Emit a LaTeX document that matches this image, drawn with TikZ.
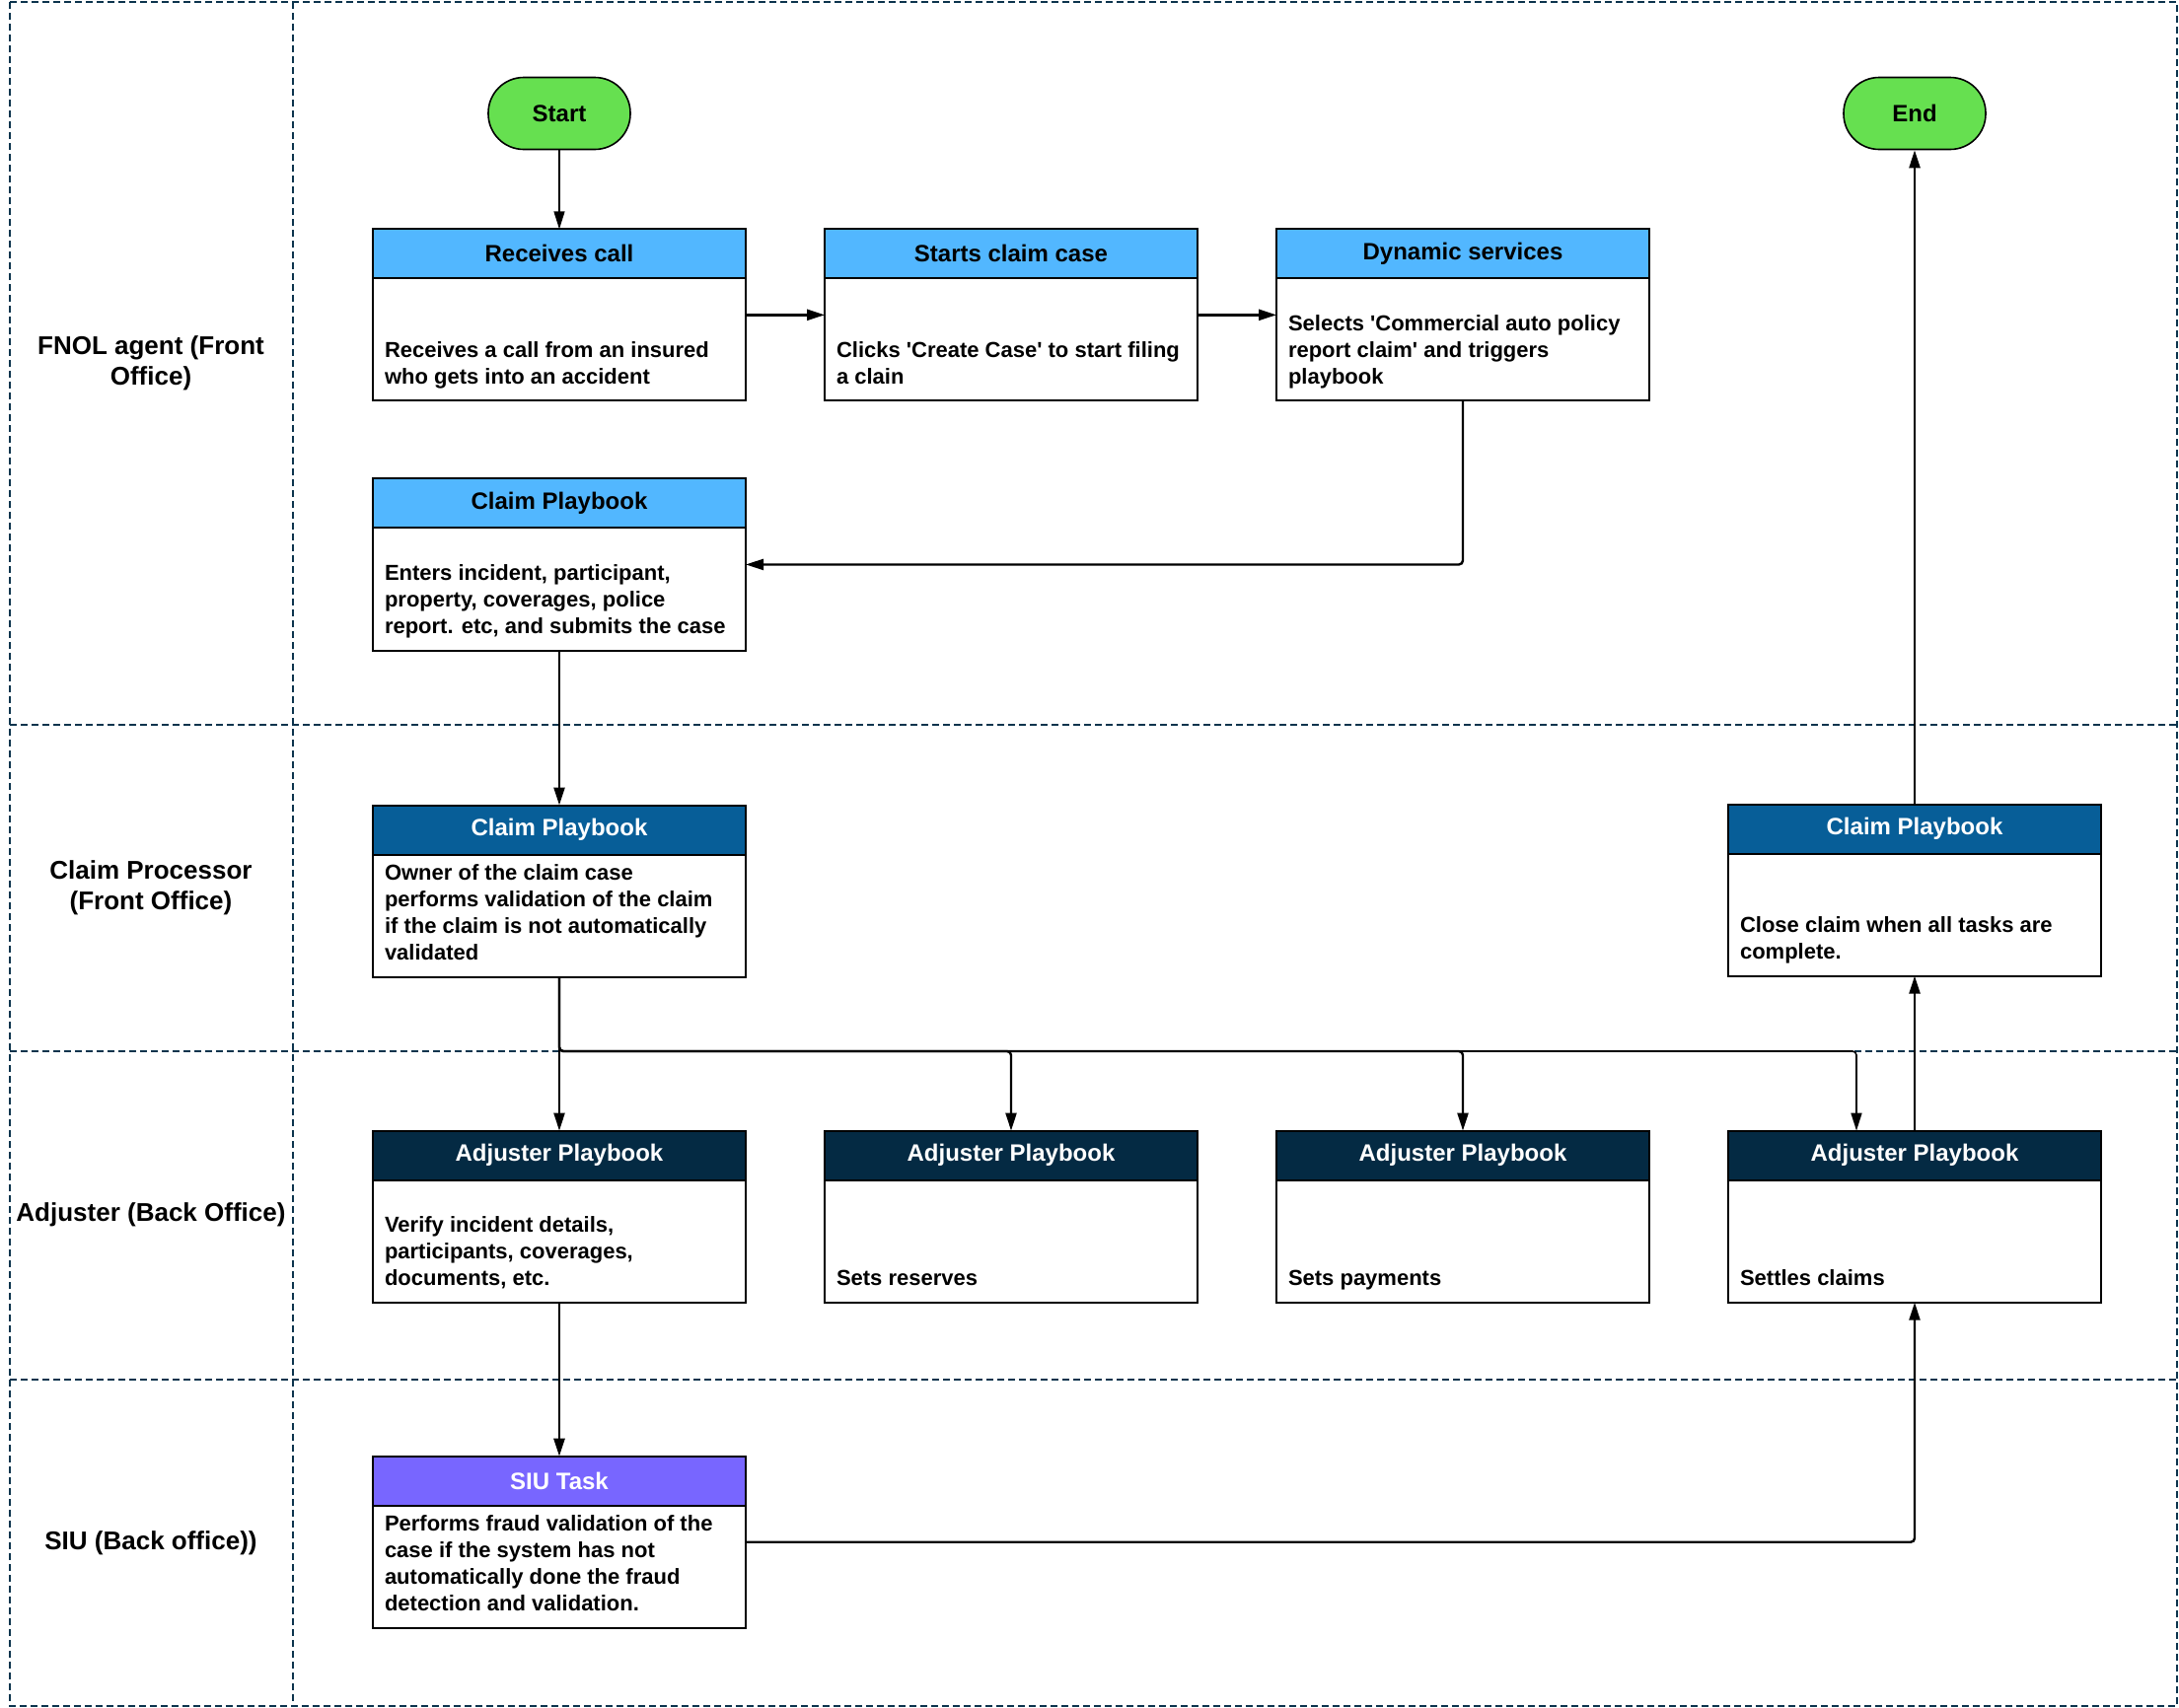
\documentclass[tikz,border=0pt]{standalone}
\usepackage{fontspec}
\setmainfont{Liberation Sans}
\usetikzlibrary{arrows.meta,positioning}
\definecolor{termgreen}{RGB}{102,224,80}
\definecolor{fnolblue}{RGB}{82,183,255}
\definecolor{procblue}{RGB}{7,94,152}
\definecolor{adjnavy}{RGB}{4,42,67}
\definecolor{siupurple}{RGB}{120,102,255}
\definecolor{lanecol}{RGB}{12,52,77}

\begin{document}
\begin{tikzpicture}[
  x=1pt, y=-1pt,
  lane/.style={draw=lanecol, line width=1.6pt, dash pattern=on 7pt off 4pt},
  lanelabel/.style={align=center, font=\fontsize{26}{31}\selectfont\bfseries},
  term/.style={draw, line width=1.6pt, fill=termgreen, rounded corners=36pt, minimum width=144pt, minimum height=73pt, font=\fontsize{24}{29}\selectfont\bfseries},
  head/.style={draw, line width=2pt, outer sep=0pt, inner sep=0pt, minimum width=378pt, minimum height=50pt, font=\fontsize{24}{29}\selectfont\bfseries},
  body/.style={draw, line width=2pt, outer sep=0pt, inner xsep=12pt, inner ysep=9pt, minimum width=378pt, minimum height=124pt, font=\fontsize{22}{27}\selectfont\bfseries,
    execute at begin node={\begin{minipage}[c][98pt][b]{354pt}\raggedright},
    execute at end node={\strut\end{minipage}}},
  arr/.style={-{Triangle[length=18pt,width=11pt]}, line width=2.4pt, rounded corners=4pt}
]
\useasboundingbox (0,0) rectangle (2209,1732);

% swimlanes
\draw[lane] (10,2) rectangle (2207,1730);
\draw[lane] (297,2) -- (297,1730);
\foreach \ly in {735,1066,1399}
  \draw[lane] (10,\ly) -- (2207,\ly);

\node[lanelabel] (lanefnol) at (153,368) {FNOL agent (Front\\Office)};
\node[lanelabel] (laneproc) at (153,900) {Claim Processor\\(Front Office)};
\node[lanelabel] (laneadj) at (153,1232) {Adjuster (Back Office)};
\node[lanelabel] (lanesiu) at (153,1565) {SIU (Back office))};

% FNOL agent
\node[term] (start) at (567,115) {Start};
\node[head, fill=fnolblue, below=80pt of start] (callh) {Receives call};
\node[body, below=0pt of callh] (callb) {Receives a call from an insured\\who gets into an accident};
\node[head, fill=fnolblue, right=80pt of callh] (caseh) {Starts claim case};
\node[body, below=0pt of caseh] (caseb) {Clicks \textquotesingle Create Case\textquotesingle{} to start filing\\a clain};
\node[head, fill=fnolblue, right=80pt of caseh] (dynh) {Dynamic services};
\node[body, below=0pt of dynh] (dynb) {Selects \textquotesingle Commercial auto policy\\report claim\textquotesingle{} and triggers\\playbook};
\node[head, fill=fnolblue, below=79pt of callb] (fnolh) {Claim Playbook};
\node[body, below=0pt of fnolh] (fnolb) {Enters incident, participant,\\property, coverages, police\\report. etc, and submits the case};

% claim processor
\node[head, fill=procblue, text=white, below=157pt of fnolb] (cph) {Claim Playbook};
\node[body, below=0pt of cph] (cpb) {Owner of the claim case\\performs validation of the claim\\if the claim is not automatically\\validated};

% adjuster
\node[head, fill=adjnavy, text=white, below=156pt of cpb] (adj1h) {Adjuster Playbook};
\node[body, below=0pt of adj1h] (adj1b) {Verify incident details,\\participants, coverages,\\documents, etc.};
\node[head, fill=adjnavy, text=white, right=80pt of adj1h] (adj2h) {Adjuster Playbook};
\node[body, below=0pt of adj2h] (adj2b) {Sets reserves};
\node[head, fill=adjnavy, text=white, right=80pt of adj2h] (adj3h) {Adjuster Playbook};
\node[body, below=0pt of adj3h] (adj3b) {Sets payments};
\node[head, fill=adjnavy, text=white, right=80pt of adj3h] (adj4h) {Adjuster Playbook};
\node[body, below=0pt of adj4h] (adj4b) {Settles claims};

% closing
\node[body, above=157pt of adj4h] (closeb) {Close claim when all tasks are\\complete.};
\node[head, fill=procblue, text=white, above=0pt of closeb] (closeh) {Claim Playbook};
\node[term] (end) at (closeh |- start) {End};

% SIU
\node[head, fill=siupurple, text=white, below=156pt of adj1b] (siuh) {SIU Task};
\node[body, below=0pt of siuh] (siub) {Performs fraud validation of the\\case if the system has not\\automatically done the fraud\\detection and validation.};

% connectors
\draw[arr, line width=1.4pt] (start) -- (callh);
\draw[arr] ([yshift=25pt]callb.east) -- ([yshift=25pt]caseb.west);
\draw[arr] ([yshift=25pt]caseb.east) -- ([yshift=25pt]dynb.west);
\draw[arr] (dynb.south) |- ([yshift=25pt]fnolb.east);
\draw[arr] (fnolb) -- (cph);

% fan out to the adjusters
\coordinate (bus) at (0,1066);
\coordinate (adj4in) at ([xshift=-59pt]adj4h.north);
\draw[arr] (cpb) -- (adj1h);
\draw[arr] (cpb.south) |- (bus -| adj2h.north) -- (adj2h.north);
\draw[arr] (cpb.south) |- (bus -| adj3h.north) -- (adj3h.north);
\draw[arr, line width=1.6pt] (cpb.south) |- (bus -| adj4in) -- (adj4in);

\draw[arr] (adj1b) -- (siuh);
\draw[arr] ([yshift=25pt]siub.east) -| (adj4b.south);
\draw[arr] (adj4h) -- (closeb);
\draw[arr] (closeh) -- (end);
\end{tikzpicture}
\end{document}
